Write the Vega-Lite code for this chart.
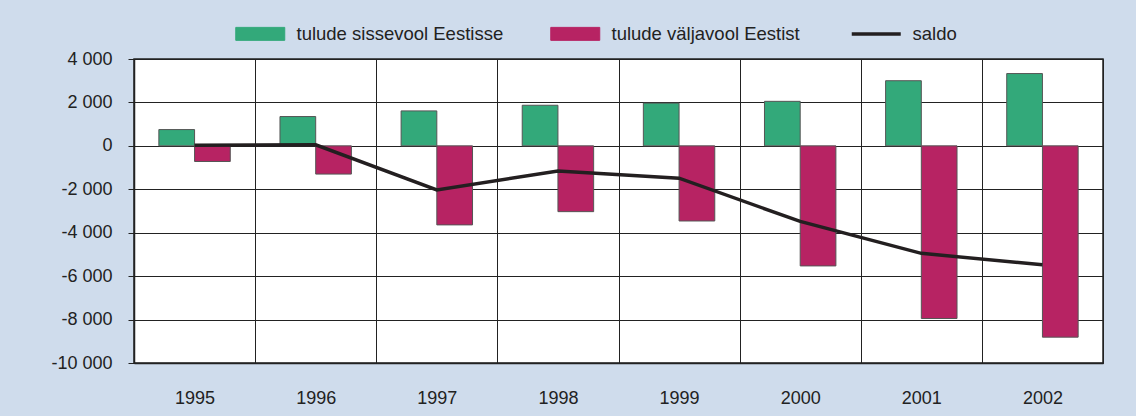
{
  "$schema": "https://vega.github.io/schema/vega-lite/v6.json",
  "width": 969,
  "height": 304,
  "autosize": {"type": "none"},
  "padding": {"left": 134, "top": 59, "right": 33, "bottom": 53},
  "background": "#cfdcec",
  "config": {
    "font": "Liberation Sans",
    "view": {"fill": "white", "stroke": "#222", "strokeWidth": 1.5}
  },
  "data": {
    "values": [
      {"year": "1995", "series": "tulude sissevool Eestisse", "value": 750},
      {"year": "1995", "series": "tulude väljavool Eestist", "value": -720},
      {"year": "1995", "series": "saldo", "value": 30},
      {"year": "1996", "series": "tulude sissevool Eestisse", "value": 1350},
      {"year": "1996", "series": "tulude väljavool Eestist", "value": -1300},
      {"year": "1996", "series": "saldo", "value": 50},
      {"year": "1997", "series": "tulude sissevool Eestisse", "value": 1610},
      {"year": "1997", "series": "tulude väljavool Eestist", "value": -3640},
      {"year": "1997", "series": "saldo", "value": -2030},
      {"year": "1998", "series": "tulude sissevool Eestisse", "value": 1870},
      {"year": "1998", "series": "tulude väljavool Eestist", "value": -3030},
      {"year": "1998", "series": "saldo", "value": -1160},
      {"year": "1999", "series": "tulude sissevool Eestisse", "value": 1970},
      {"year": "1999", "series": "tulude väljavool Eestist", "value": -3460},
      {"year": "1999", "series": "saldo", "value": -1490},
      {"year": "2000", "series": "tulude sissevool Eestisse", "value": 2050},
      {"year": "2000", "series": "tulude väljavool Eestist", "value": -5530},
      {"year": "2000", "series": "saldo", "value": -3480},
      {"year": "2001", "series": "tulude sissevool Eestisse", "value": 3000},
      {"year": "2001", "series": "tulude väljavool Eestist", "value": -7950},
      {"year": "2001", "series": "saldo", "value": -4950},
      {"year": "2002", "series": "tulude sissevool Eestisse", "value": 3330},
      {"year": "2002", "series": "tulude väljavool Eestist", "value": -8810},
      {"year": "2002", "series": "saldo", "value": -5480}
    ]
  },
  "encoding": {
    "x": {
      "field": "year",
      "type": "ordinal",
      "scale": {"paddingInner": 0, "paddingOuter": 0},
      "axis": {
        "title": null,
        "labelAngle": 0,
        "labelFontSize": 18,
        "labelColor": "#222",
        "labelPadding": 26,
        "ticks": false,
        "tickBand": "extent",
        "grid": true,
        "gridColor": "#222",
        "gridWidth": 1,
        "gridOpacity": 1,
        "domainColor": "#222",
        "domainWidth": 1.5
      }
    },
    "y": {
      "field": "value",
      "type": "quantitative",
      "scale": {"domain": [-10000, 4000], "nice": false, "zero": false},
      "axis": {
        "title": null,
        "values": [-10000, -8000, -6000, -4000, -2000, 0, 2000, 4000],
        "labelExpr": "replace(replace(format(datum.value, ',d'), ',', ' '), '−', '-')",
        "labelFontSize": 18,
        "labelColor": "#222",
        "labelPadding": 16,
        "tickSize": 6,
        "tickColor": "#222",
        "tickWidth": 1,
        "grid": true,
        "gridColor": "#222",
        "gridWidth": 1,
        "gridOpacity": 1,
        "domainColor": "#222",
        "domainWidth": 1.5
      }
    },
    "color": {
      "field": "series",
      "type": "nominal",
      "scale": {
        "domain": ["tulude sissevool Eestisse", "tulude väljavool Eestist", "saldo"],
        "range": ["#33a97a", "#b72363", "#231f20"]
      },
      "legend": {
        "title": null,
        "orient": "none",
        "direction": "horizontal",
        "legendX": 102,
        "legendY": -34.5,
        "labelFontSize": 18.5,
        "labelColor": "#222",
        "labelLimit": 400,
        "labelOffset": 27,
        "symbolOffset": 15,
        "columnPadding": 44,
        "symbolSize": 2401,
        "symbolOpacity": 1,
        "encode": {
          "symbols": {
            "update": {
              "shape": {"signal": "datum.value === 'saldo' ? 'stroke' : 'M-1,-0.265H1V0.265H-1Z'"},
              "fill": {"signal": "datum.value === 'saldo' ? 'transparent' : scale('color', datum.value)"},
              "stroke": {"signal": "datum.value === 'saldo' ? '#231f20' : '#555'"},
              "strokeWidth": {"signal": "datum.value === 'saldo' ? 3.5 : 1"},
              "opacity": {"value": 1}
            }
          }
        }
      }
    }
  },
  "layer": [
    {
      "transform": [{"filter": "datum.series !== 'saldo'"}],
      "mark": {"type": "bar", "stroke": "#555", "strokeWidth": 1, "opacity": 1},
      "encoding": {
        "xOffset": {
          "field": "series",
          "type": "nominal",
          "sort": ["tulude sissevool Eestisse", "tulude väljavool Eestist"],
          "scale": {"paddingInner": 0, "paddingOuter": 0.696}
        }
      }
    },
    {
      "transform": [{"filter": "datum.series === 'saldo'"}],
      "mark": {"type": "line", "strokeWidth": 3.5},
      "encoding": {}
    }
  ]
}
